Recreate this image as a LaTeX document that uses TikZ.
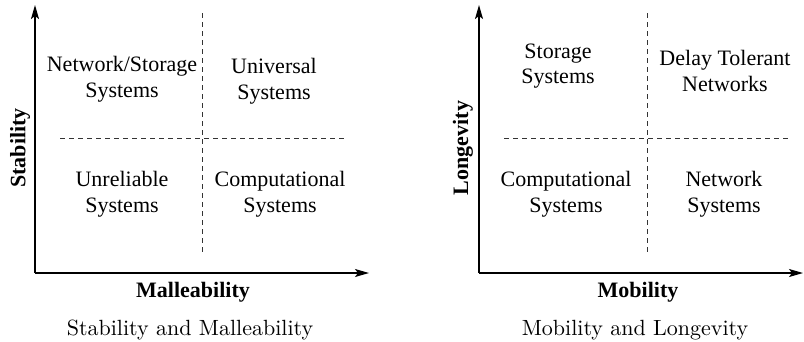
\documentclass[tikz,border=0pt]{standalone}
\usepackage{fontspec}
\newfontfamily\timesf{Liberation Serif}
\newfontfamily\lmten{lmroman10-regular}[Extension=.otf]
\usetikzlibrary{arrows.meta}
\tikzset{
  axisline/.style={line width=1.4pt, -{Stealth[length=14pt,width=8pt,inset=3pt]}},
  divline/.style={line width=0.6pt, dash pattern=on 5pt off 4pt, black!80},
  quad/.style={align=center, font=\timesf\fontsize{22}{25.5}\selectfont, inner sep=0pt},
  axlabel/.style={font=\timesf\bfseries\fontsize{22}{25.5}\selectfont, inner sep=0pt},
  capt/.style={font=\lmten\fontsize{22}{25.5}\selectfont, inner sep=0pt}
}
\begin{document}
\begin{tikzpicture}[x=1pt,y=-1pt]
\useasboundingbox (0,0) rectangle (804,341);
% left panel
\coordinate (o1) at (35,273);
\coordinate (yt1) at (35,5);
\coordinate (xt1) at (369,273);
\draw[axisline] (o1) -- (yt1);
\draw[axisline] (o1) -- (xt1);
\coordinate (v1a) at (202,13); \coordinate (v1b) at (202,255);
\coordinate (h1a) at (60,138); \coordinate (h1b) at (345,138);
\draw[divline] (v1a) -- (v1b);
\draw[divline] (h1a) -- (h1b);
\node[quad] (ns) at (122,79) {Network/Storage\\Systems};
\node[quad] (us) at (274,81) {Universal\\Systems};
\node[quad] (ur) at (122,194) {Unreliable\\Systems};
\node[quad] (cs1) at (280,194) {Computational\\Systems};
\node[axlabel, rotate=90] (stab) at (20,148) {Stability};
\node[axlabel] (mall) at (193,292) {Malleability};
\node[capt] (cap1) at (190,330) {Stability and Malleability};
% right panel
\coordinate (o2) at (479,273);
\coordinate (yt2) at (479,5);
\coordinate (xt2) at (803,273);
\draw[axisline] (o2) -- (yt2);
\draw[axisline] (o2) -- (xt2);
\coordinate (v2a) at (647,13); \coordinate (v2b) at (647,255);
\coordinate (h2a) at (504,138); \coordinate (h2b) at (790,138);
\draw[divline] (v2a) -- (v2b);
\draw[divline] (h2a) -- (h2b);
\node[quad] (ss) at (558,66) {Storage\\Systems};
\node[quad] (dtn) at (725,71) {Delay Tolerant\\Networks};
\node[quad] (cs2) at (566,194) {Computational\\Systems};
\node[quad] (nws) at (724,194) {Network\\Systems};
\node[axlabel, rotate=90] (long) at (463,148) {Longevity};
\node[axlabel] (mob) at (638,292) {Mobility};
\node[capt] (cap2) at (635,330) {Mobility and Longevity};
\end{tikzpicture}
\end{document}
